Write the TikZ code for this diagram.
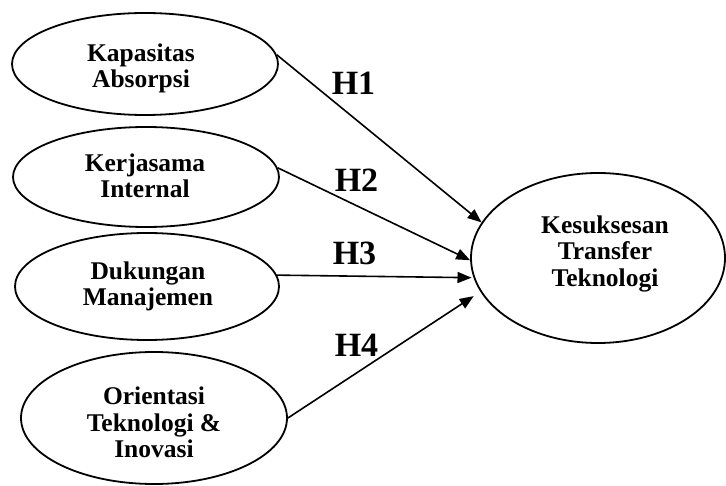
\documentclass[tikz,border=0pt]{standalone}
\usepackage{fontspec}
\setmainfont{Liberation Serif}
\usetikzlibrary{arrows.meta,shapes.geometric}

\tikzset{
  oval/.style={draw=black, line width=1.8pt, ellipse, inner sep=0pt},
  vartext/.style={align=center, inner sep=0pt,
    font=\fontsize{25.5}{26.5}\selectfont\bfseries},
  hyplabel/.style={anchor=base, inner sep=0pt,
    font=\fontsize{34}{34}\selectfont\bfseries},
  path/.style={draw=black, line width=1.6pt,
    -{Triangle[length=14pt, width=11pt]}}
}

\begin{document}
\begin{tikzpicture}[x=1pt, y=-1pt]
  \useasboundingbox (0,0) rectangle (726,486);

  % independent variables
  \node[oval, minimum width=266pt, minimum height=102pt] (kap) at (145,64) {};
  \node[oval, minimum width=266pt, minimum height=100pt] (ker) at (146,177) {};
  \node[oval, minimum width=264pt, minimum height=107pt] (duk) at (147,286.5) {};
  \node[oval, minimum width=266pt, minimum height=132pt] (ori) at (154,418) {};

  % dependent variable
  \node[oval, minimum width=254pt, minimum height=170pt] (kes) at (598,258) {};

  % variable names
  \node[vartext] (kap-t) at (141,68.5) {Kapasitas\\Absorpsi};
  \node[vartext] (ker-t) at (145,176) {Kerjasama\\Internal};
  \node[vartext] (duk-t) at (148,286.5) {Dukungan\\Manajemen};
  \node[vartext] (ori-t) at (154,422.5) {Orientasi\\Teknologi \&\\Inovasi};
  \node[vartext] (kes-t) at (605,253.5) {Kesuksesan\\Transfer\\Teknologi};

  % hypothesised paths
  \draw[path] (kap.4) -- (kes.163);
  \draw[path] (ker.4) -- (kes.181);
  \draw[path, shorten >=2pt] (duk.5) -- (kes.189);
  \draw[path, shorten >=8pt] (ori.east) -- (kes.196);

  % hypothesis labels
  \node[hyplabel] (h1) at (353.5,95) {H1};
  \node[hyplabel] (h2) at (356.5,192) {H2};
  \node[hyplabel] (h3) at (354.5,265) {H3};
  \node[hyplabel] (h4) at (356.5,357) {H4};
\end{tikzpicture}
\end{document}
